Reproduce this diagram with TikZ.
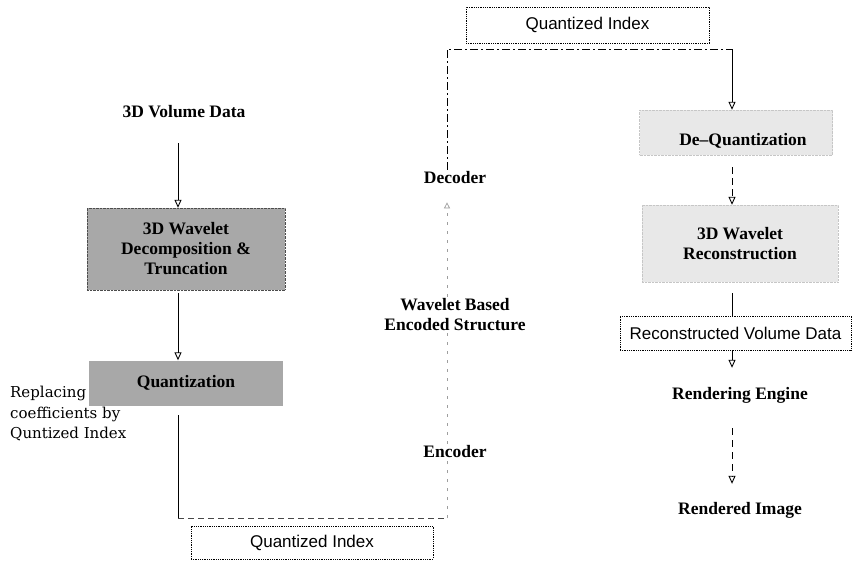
\documentclass[tikz,border=0pt]{standalone}
\usepackage{fontspec}
\setmainfont{Liberation Serif}
\setsansfont{Liberation Sans}
\newfontfamily\annfont{DejaVu Serif}
\usetikzlibrary{arrows.meta}
\definecolor{darkfill}{gray}{0.66}
\definecolor{lightfill}{gray}{0.91}
\definecolor{faint}{gray}{0.62}
\tikzset{
  lbl/.style={font=\bfseries\fontsize{17.5}{20}\selectfont, align=center, inner sep=2pt},
  darkbox/.style={lbl, fill=darkfill, draw=gray!60!black, densely dotted, thin},
  lightbox/.style={fill=lightfill, draw=gray!45, densely dotted, thin},
  sbox/.style={draw=black, densely dotted, line width=0.8pt, inner sep=0pt,
               font=\sffamily\fontsize{17}{20}\selectfont},
  ann/.style={font=\annfont\fontsize{15}{20.5}\selectfont, align=left, inner sep=0pt},
  tip/.style={-{Triangle[open,length=8pt,width=7pt]}},
  arr/.style={tip, line width=0.9pt},
  faintdash/.style={draw=faint, line width=0.7pt, dash pattern=on 3pt off 6pt},
  darkdash/.style={draw=black, line width=0.8pt, dash pattern=on 8pt off 3pt on 2pt off 3pt}
}
\begin{document}
\begin{tikzpicture}[x=1pt,y=-1pt]
\useasboundingbox[fill=white] (0,0) rectangle (858,565);

% left column
\node[lbl] (vol) at (184,112) {3D Volume Data};
\node[darkbox, minimum width=198pt, minimum height=82pt] (wdec) at (186,249)
  {3D Wavelet\\Decomposition \&\\Truncation};
\node[darkbox, draw=none, minimum width=194pt, minimum height=45pt] (quant) at (186,383) {Quantization};
\node[ann, anchor=north west] (repl) at (10,386) {Replacing\\coefficients by\\Quntized Index};
\node[sbox, minimum width=242pt, minimum height=33pt] (qbot) at (312,542.5) {Quantized Index};

% middle column
\node[lbl] (enc) at (455,452) {Encoder};
\node[lbl] (wbes) at (455,315) {Wavelet Based\\Encoded Structure};
\node[lbl] (decd) at (455,178) {Decoder};
\node[sbox, minimum width=243pt, minimum height=36pt] (qtop) at (587.5,25) {Quantized Index};

% right column
\node[lightbox, minimum width=193pt, minimum height=45pt] (deqbox) at (736,132.5) {};
\node[lbl] (deq) at (743,141) {De--Quantization};
\node[lightbox, lbl, minimum width=196pt, minimum height=77pt] (rec) at (740,243.5)
  {3D Wavelet\\Reconstruction};
\node[sbox, minimum width=231pt, minimum height=34pt] (rvd) at (735.5,333) {Reconstructed Volume Data};
\node[lbl] (rend) at (740,395) {Rendering Engine};
\node[lbl] (rimg) at (740,510) {Rendered Image};

% coordinates of free ends and corners
\coordinate (c1) at (178,143);
\coordinate (c2) at (178,293);
\coordinate (c3) at (178,415);
\coordinate (cbl) at (178,518);
\coordinate (cbr) at (447,518);
\coordinate (ctl) at (447,49);
\coordinate (ctr) at (732,49);
\coordinate (c4) at (732,167);
\coordinate (c5) at (732,293);
\coordinate (c6) at (732,428);

% left connectors
\draw[arr] (c1) -- (c1 |- wdec.north);
\draw[arr] (c2) -- (c2 |- quant.north);
\draw[line width=1pt] (c3) -- (cbl);
\draw[draw=gray!55!black, line width=0.8pt, dash pattern=on 6pt off 4pt] (cbl) -- (cbr);

% middle faint line
\draw[faintdash] (cbr) -- (enc.south -| cbr);
\draw[faintdash] (enc.north -| cbr) -- (wbes.south -| cbr);
\draw[faintdash, -{Triangle[open,length=6pt,width=6pt]}, shorten >=16pt] (wbes.north -| cbr) -- (decd.south -| cbr);
\draw[darkdash] (decd.north -| ctl) -- (ctl) -- (ctr);
\draw[arr] (ctr) -- (ctr |- deqbox.north);

% right connectors
\draw[arr, dash pattern=on 7pt off 4pt] (c4) -- (c4 |- rec.north);
\draw[line width=0.9pt] (c5) -- (c5 |- rvd.north);
\draw[arr, shorten >=17pt] (rvd.south -| c5) -- (c5 |- rend.north);
\draw[arr, dash pattern=on 7pt off 5pt, shorten >=16pt] (c6) -- (c6 |- rimg.north);
\end{tikzpicture}
\end{document}
